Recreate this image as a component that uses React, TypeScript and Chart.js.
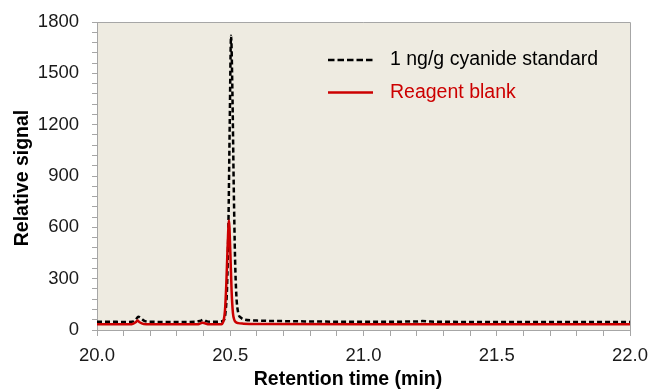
import React, { useEffect, useRef } from "react";
import { Chart, registerables } from "chart.js";

Chart.register(...registerables);

// Retention time (min) and signal for the cyanide standard
const standardTime = [20.0, 20.05, 20.1, 20.13, 20.145, 20.155, 20.165, 20.18, 20.2, 20.3, 20.37, 20.39, 20.4, 20.41, 20.43, 20.46, 20.475, 20.482, 20.488, 20.493, 20.498, 20.503, 20.508, 20.513, 20.518, 20.523, 20.53, 20.54, 20.55, 20.6, 20.7, 20.8, 21.0, 21.2, 21.22, 21.25, 21.5, 21.8, 22.0];
const standardSignal = [48, 48, 47, 48, 60, 78, 68, 52, 48, 47, 48, 55, 60, 52, 48, 49, 55, 100, 250, 600, 1200, 1720, 1400, 850, 420, 200, 100, 72, 62, 55, 52, 50, 48, 50, 52, 49, 47, 47, 47];

// Retention time (min) and signal for the reagent blank
const blankTime = [20.0, 20.1, 20.13, 20.145, 20.152, 20.16, 20.175, 20.2, 20.38, 20.395, 20.405, 20.42, 20.46, 20.47, 20.475, 20.48, 20.485, 20.49, 20.495, 20.5, 20.505, 20.51, 20.515, 20.52, 20.53, 20.55, 20.6, 21.0, 22.0];
const blankSignal = [33, 33, 34, 45, 56, 45, 35, 33, 33, 43, 39, 33, 33, 36, 55, 110, 260, 480, 640, 470, 230, 100, 60, 47, 40, 37, 35, 34, 33];

const seriesLabels = ["1 ng/g cyanide standard", "Reagent blank"];
const xTitle = "Retention time (min)";
const yTitle = "Relative signal";

const FONT = "'Liberation Sans', Arial, sans-serif";
const RED = "#CC0000";

export default function App() {
  const ref = useRef<HTMLCanvasElement | null>(null);

  useEffect(() => {
    document.body.style.margin = "0";
    const canvas = ref.current;
    if (!canvas) return;

    const bgPlugin = {
      id: "plotBg",
      beforeDraw(chart: any) {
        const { ctx, chartArea: a } = chart;
        ctx.save();
        ctx.fillStyle = "#EEEBE1";
        ctx.fillRect(a.left, a.top, a.right - a.left, a.bottom - a.top);
        ctx.strokeStyle = "#A6A6A6";
        ctx.lineWidth = 1;
        ctx.beginPath();
        ctx.moveTo(a.left, a.top + 0.5);
        ctx.lineTo(a.right + 0.5, a.top + 0.5);
        ctx.lineTo(a.right + 0.5, a.bottom);
        ctx.stroke();
        ctx.restore();
      },
      afterDatasetsDraw(chart: any) {
        const { ctx } = chart;
        ctx.save();
        ctx.font = `19.5px ${FONT}`;
        ctx.textBaseline = "middle";
        ctx.lineWidth = 2.5;
        // standard
        ctx.strokeStyle = "#000";
        ctx.setLineDash([6.5, 3]);
        ctx.beginPath();
        ctx.moveTo(328, 60);
        ctx.lineTo(373, 60);
        ctx.stroke();
        ctx.setLineDash([]);
        ctx.fillStyle = "#000";
        ctx.fillText(seriesLabels[0], 390, 60);
        // blank
        ctx.strokeStyle = RED;
        ctx.beginPath();
        ctx.moveTo(328, 92.5);
        ctx.lineTo(373, 92.5);
        ctx.stroke();
        ctx.fillStyle = RED;
        ctx.fillText(seriesLabels[1], 390, 92.5);

        // axis titles
        ctx.fillStyle = "#000";
        ctx.font = `bold 19.5px ${FONT}`;
        ctx.textAlign = "center";
        ctx.textBaseline = "alphabetic";
        ctx.fillText(xTitle, 348, 385);
        ctx.translate(28, 178);
        ctx.rotate(-Math.PI / 2);
        ctx.fillText(yTitle, 0, 0);
        ctx.restore();
      },
    };

    const chart = new Chart(canvas, {
      type: "line",
      data: {
        datasets: [
          {
            label: seriesLabels[0],
            data: standardTime.map((t, i) => ({ x: t, y: standardSignal[i] })),
            borderColor: "#000",
            borderWidth: 2.5,
            borderDash: [5, 3],
            pointRadius: 0,
            cubicInterpolationMode: "monotone",
            order: 2,
          },
          {
            label: seriesLabels[1],
            data: blankTime.map((t, i) => ({ x: t, y: blankSignal[i] })),
            borderColor: RED,
            borderWidth: 2.5,
            pointRadius: 0,
            cubicInterpolationMode: "monotone",
            order: 1,
          },
        ],
      },
      plugins: [bgPlugin],
      options: {
        animation: false,
        responsive: false,
        maintainAspectRatio: false,
        layout: { padding: { left: 0, right: 21, top: 22, bottom: 0 } },
        plugins: { legend: { display: false }, tooltip: { enabled: false } },
        scales: {
          x: {
            type: "linear",
            min: 20,
            max: 22,
            afterFit: (s: any) => { s.height = 62; s.paddingLeft = 0; s.paddingRight = 0; },
            ticks: {
              stepSize: 0.1,
              autoSkip: false,
              maxRotation: 0,
              padding: 9,
              color: "#1a1a1a",
              font: { family: FONT, size: 18.5 },
              callback: (v: any) => {
                const n = Number(v);
                return Math.abs(n * 2 - Math.round(n * 2)) < 1e-6 ? n.toFixed(1) : "";
              },
            },
            grid: { drawOnChartArea: false, tickLength: 6, color: "#A6A6A6" },
            border: { color: "#A6A6A6" },
          },
          y: {
            type: "linear",
            min: 0,
            max: 1800,
            afterFit: (s: any) => { s.width = 97; s.paddingTop = 0; s.paddingBottom = 0; },
            ticks: {
              stepSize: 60,
              autoSkip: false,
              padding: 13,
              color: "#1a1a1a",
              font: { family: FONT, size: 18.5 },
              callback: (v: any) => (Number(v) % 300 === 0 ? String(v) : ""),
            },
            grid: { drawOnChartArea: false, tickLength: 5, color: "#A6A6A6" },
            border: { color: "#A6A6A6" },
          },
        },
      },
    });
    return () => chart.destroy();
  }, []);

  return (
    <div style={{ width: 651, height: 392, background: "#fff" }}>
      <canvas ref={ref} width={651} height={392} style={{ display: "block" }} />
    </div>
  );
}
